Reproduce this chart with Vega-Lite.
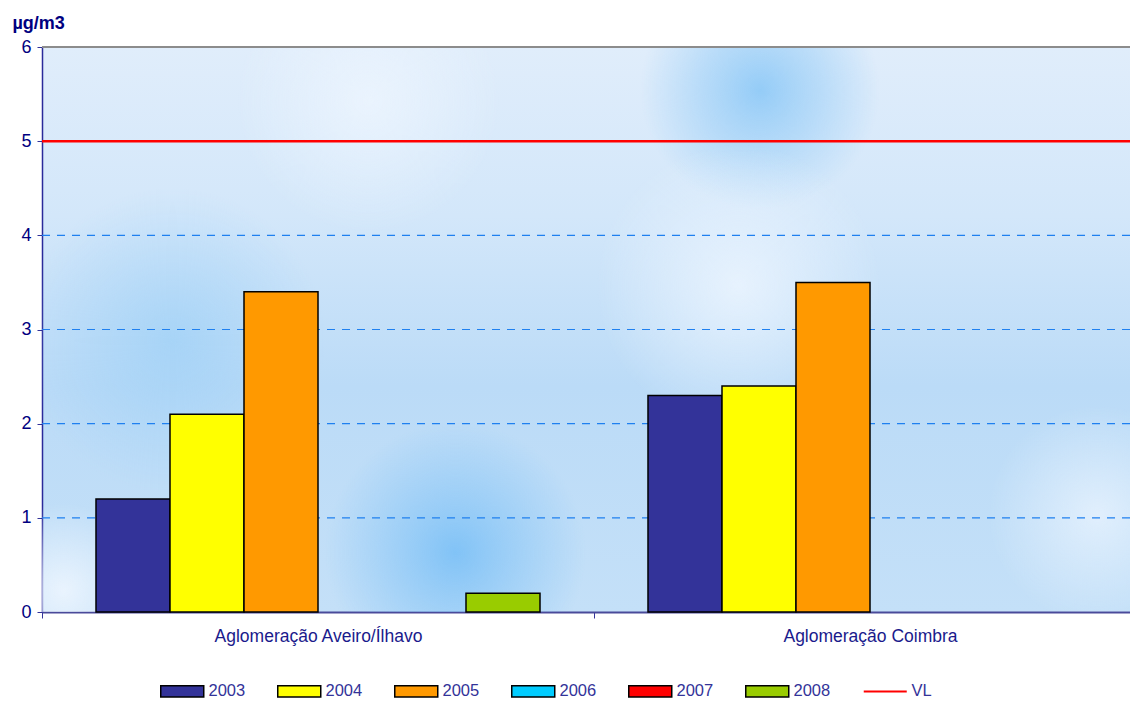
{
  "$schema": "https://vega.github.io/schema/vega-lite/v6.json",
  "width": 1088,
  "height": 565,
  "autosize": "none",
  "padding": {"left": 42, "top": 47, "right": 0, "bottom": 90},
  "background": "#ffffff",
  "config": {
    "font": "Liberation Sans",
    "view": {
      "stroke": null,
      "fill": {
        "gradient": "linear", "x1": 0, "y1": 0, "x2": 0, "y2": 1,
        "stops": [
          {"offset": 0, "color": "#e0edfb"},
          {"offset": 0.3, "color": "#d3e7fa"},
          {"offset": 0.6, "color": "#bbdbf7"},
          {"offset": 1, "color": "#c4e0f8"}
        ]
      }
    }
  },
  "layer": [
    {
      "data": {"values": [{}]},
      "mark": {"type": "rect", "fill": {"gradient": "radial", "x1": 0.66, "y1": 0.28, "r1": 0, "x2": 0.66, "y2": 0.28, "r2": 0.11,
        "stops": [{"offset": 0, "color": "rgba(130,196,246,0.8)"}, {"offset": 0.5, "color": "rgba(140,200,246,0.45)"}, {"offset": 1, "color": "rgba(140,200,246,0)"}]}},
      "encoding": {}
    },
    {
      "data": {"values": [{}]},
      "mark": {"type": "rect", "fill": {"gradient": "radial", "x1": 0.38, "y1": 0.705, "r1": 0, "x2": 0.38, "y2": 0.705, "r2": 0.12,
        "stops": [{"offset": 0, "color": "rgba(118,190,246,0.85)"}, {"offset": 0.5, "color": "rgba(125,193,246,0.45)"}, {"offset": 1, "color": "rgba(125,193,246,0)"}]}},
      "encoding": {}
    },
    {
      "data": {"values": [{}]},
      "mark": {"type": "rect", "fill": {"gradient": "radial", "x1": 0.64, "y1": 0.46, "r1": 0, "x2": 0.64, "y2": 0.46, "r2": 0.13,
        "stops": [{"offset": 0, "color": "rgba(238,246,255,0.8)"}, {"offset": 0.5, "color": "rgba(238,246,255,0.4)"}, {"offset": 1, "color": "rgba(238,246,255,0)"}]}},
      "encoding": {}
    },
    {
      "data": {"values": [{}]},
      "mark": {"type": "rect", "fill": {"gradient": "radial", "x1": 0.97, "y1": 0.67, "r1": 0, "x2": 0.97, "y2": 0.67, "r2": 0.1,
        "stops": [{"offset": 0, "color": "rgba(238,246,255,0.7)"}, {"offset": 1, "color": "rgba(238,246,255,0)"}]}},
      "encoding": {}
    },
    {
      "data": {"values": [{}]},
      "mark": {"type": "rect", "fill": {"gradient": "radial", "x1": 0.02, "y1": 0.74, "r1": 0, "x2": 0.02, "y2": 0.74, "r2": 0.08,
        "stops": [{"offset": 0, "color": "rgba(240,247,255,0.85)"}, {"offset": 1, "color": "rgba(240,247,255,0)"}]}},
      "encoding": {}
    },
    {
      "data": {"values": [{}]},
      "mark": {"type": "rect", "fill": {"gradient": "radial", "x1": 0.12, "y1": 0.51, "r1": 0, "x2": 0.12, "y2": 0.51, "r2": 0.14,
        "stops": [{"offset": 0, "color": "rgba(150,205,246,0.6)"}, {"offset": 1, "color": "rgba(150,205,246,0)"}]}},
      "encoding": {}
    },
    {
      "data": {"values": [{}]},
      "mark": {"type": "rect", "fill": {"gradient": "radial", "x1": 0.3, "y1": 0.29, "r1": 0, "x2": 0.3, "y2": 0.29, "r2": 0.12,
        "stops": [{"offset": 0, "color": "rgba(240,247,255,0.7)"}, {"offset": 1, "color": "rgba(240,247,255,0)"}]}},
      "encoding": {}
    },
    {
      "data": {"values": [{"level": 1}, {"level": 2}, {"level": 3}, {"level": 4}]},
      "mark": {"type": "rule", "color": "#1f80f0", "strokeWidth": 1.2, "strokeDash": [8, 7]},
      "encoding": {
        "y": {
          "field": "level", "type": "quantitative",
          "scale": {"domain": [0, 6], "nice": false},
          "axis": {
            "title": "µg/m3", "titleAngle": 0, "titleAlign": "left", "titleBaseline": "alphabetic",
            "titleX": -30, "titleY": -19, "titleFontSize": 18, "titleFontWeight": "bold", "titleColor": "#000080",
            "values": [0, 1, 2, 3, 4, 5, 6], "format": "d", "labelOverlap": false,
            "labelFontSize": 18, "labelColor": "#000080", "labelPadding": 6,
            "domainColor": "#2a2a9a", "domainWidth": 1.5, "tickColor": "#333399", "tickSize": 5, "grid": false
          }
        }
      }
    },
    {
      "data": {"values": [{}]},
      "mark": {"type": "rule", "color": "#8c8c8c", "strokeWidth": 2},
      "encoding": {"y": {"datum": 6, "type": "quantitative"}}
    },
    {
      "data": {
        "values": [
          {"zona": "Aglomeração Aveiro/Ílhavo", "ano": "2003", "valor": 1.2},
          {"zona": "Aglomeração Aveiro/Ílhavo", "ano": "2004", "valor": 2.1},
          {"zona": "Aglomeração Aveiro/Ílhavo", "ano": "2005", "valor": 3.4},
          {"zona": "Aglomeração Aveiro/Ílhavo", "ano": "2008", "valor": 0.2},
          {"zona": "Aglomeração Coimbra", "ano": "2003", "valor": 2.3},
          {"zona": "Aglomeração Coimbra", "ano": "2004", "valor": 2.4},
          {"zona": "Aglomeração Coimbra", "ano": "2005", "valor": 3.5}
        ]
      },
      "mark": {"type": "bar", "stroke": "#000000", "strokeWidth": 1.5},
      "encoding": {
        "x": {
          "field": "zona", "type": "nominal", "sort": null,
          "scale": {"range": [0, 1104], "paddingInner": 0, "paddingOuter": 0},
          "axis": {
            "title": null, "labelAngle": 0, "labelFontSize": 17.5, "labelColor": "#1a1a8c", "labelLimit": 500,
            "labelPadding": 9, "domainColor": "#4a4a9a", "domainWidth": 2,
            "tickColor": "#333399", "tickSize": 6, "tickBand": "extent", "grid": false
          }
        },
        "xOffset": {
          "field": "ano", "type": "nominal",
          "scale": {"domain": ["2003", "2004", "2005", "2006", "2007", "2008"], "paddingInner": 0, "paddingOuter": 0.7297}
        },
        "y": {"field": "valor", "type": "quantitative"},
        "color": {
          "field": "ano", "type": "nominal",
          "scale": {
            "domain": ["2003", "2004", "2005", "2006", "2007", "2008", "VL"],
            "range": ["#333399", "#ffff00", "#ff9900", "#00ccff", "#ff0000", "#99cc00", "#ff0000"]
          },
          "legend": {
            "title": null, "orient": "none", "legendX": 132, "legendY": 636,
            "direction": "horizontal", "columns": 7, "columnPadding": 28,
            "symbolType": "M-1,-0.26H1V0.26H-1Z", "symbolSize": 1849,
            "symbolStrokeColor": "#000000", "symbolStrokeWidth": 1.5, "symbolOpacity": 1,
            "labelFontSize": 16.5, "labelColor": "#333399", "labelOffset": 18,
            "encode": {
              "symbols": {
                "update": {
                  "shape": {"signal": "datum.value === 'VL' ? 'stroke' : 'M-1,-0.26H1V0.26H-1Z'"},
                  "stroke": {"signal": "datum.value === 'VL' ? '#ff0000' : '#000000'"},
                  "strokeWidth": {"signal": "datum.value === 'VL' ? 2 : 1.5"}
                }
              }
            }
          }
        }
      }
    },
    {
      "data": {"values": [{}]},
      "mark": {"type": "rule", "color": "#ff0000", "strokeWidth": 2.5},
      "encoding": {"y": {"datum": 5, "type": "quantitative"}}
    }
  ]
}
